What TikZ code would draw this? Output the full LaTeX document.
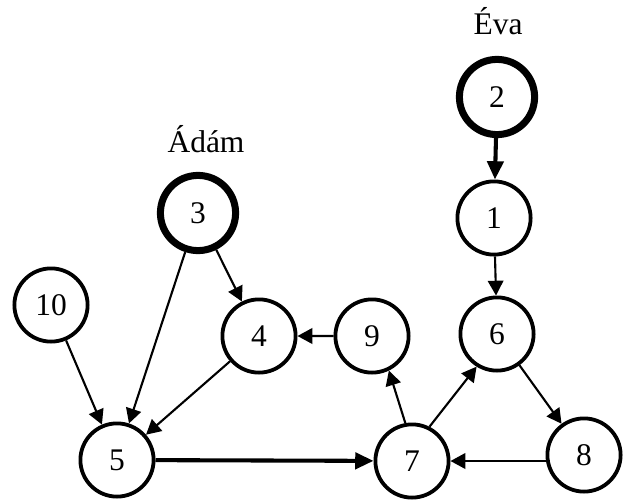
\documentclass[tikz,border=0pt]{standalone}
\usepackage{fontspec}
\setmainfont{Liberation Serif}
\usetikzlibrary{arrows.meta,positioning}
\tikzstyle{vertex}=[draw, circle, line width=2.7pt, minimum size=1.83cm,
  inner sep=0pt]
\tikzstyle{root} = [vertex, line width=5pt, minimum size=1.88cm]
\tikzstyle{nametag} = [anchor=base]
\tikzstyle{line} = [draw, line width=1.5pt,
  -{Triangle[length=10.5pt,width=11pt]}]
\tikzstyle{thickline} = [draw, line width=2.9pt,
  -{Triangle[length=13pt,width=11.5pt]}]
\newcommand{\person}[3]{node (#1) [#3] {#2}}

\begin{document}
\begin{tikzpicture}[font=\fontsize{22.4}{26}\selectfont]
  \useasboundingbox (0,0) rectangle (15.6,-12.475);

  % family tree, right branch
  \path (12.425,-2.425) \person{N2}{2}{root};
  \path (N2.center)+(-0.075,-3.025) \person{N1}{1}{vertex};
  \path (N1.center)+(0.075,-2.9) \person{N6}{6}{vertex};
  \path (N6.center)+(-3.125,-0.05) \person{N9}{9}{vertex};
  \path (N6.center)+(-2.125,-3.175) \person{N7}{7}{vertex};
  \path (N6.center)+(2.175,-3.025) \person{N8}{8}{vertex};

  % left branch
  \path (4.95,-5.325) \person{N3}{3}{root};
  \path (N3.center)+(-3.675,-2.3) \person{N10}{10}{vertex};
  \path (N3.center)+(1.525,-3.075) \person{N4}{4}{vertex};
  \path (N3.center)+(-2.025,-6.175) \person{N5}{5}{vertex};

  \path (N2.center)+(0.025,1.55) node (EVA) [nametag] {Éva};
  \path (N3.center)+(0.2,1.5) node (ADAM) [nametag] {Ádám};

  %Draw arrows between persons
  \path [thickline] (N2) -- (N1);
  \path [line] (N1) -- (N6);
  \path [line] (N3) -- (N4);
  \path [line] (N3) -- (N5);
  \path [line] (N10) -- (N5);
  \path [line] (N4) -- (N5);
  \path [line] (N9) -- (N4);
  \path [thickline] (N5) -- (N7);
  \path [line] (N7.100) -- (N9.-64);
  \path [line] (N7.63) -- (N6.238);
  \path [line] (N6) -- (N8);
  \path [line] (N8.west |- N7.east) -- (N7.east);

\end{tikzpicture}
\end{document}
